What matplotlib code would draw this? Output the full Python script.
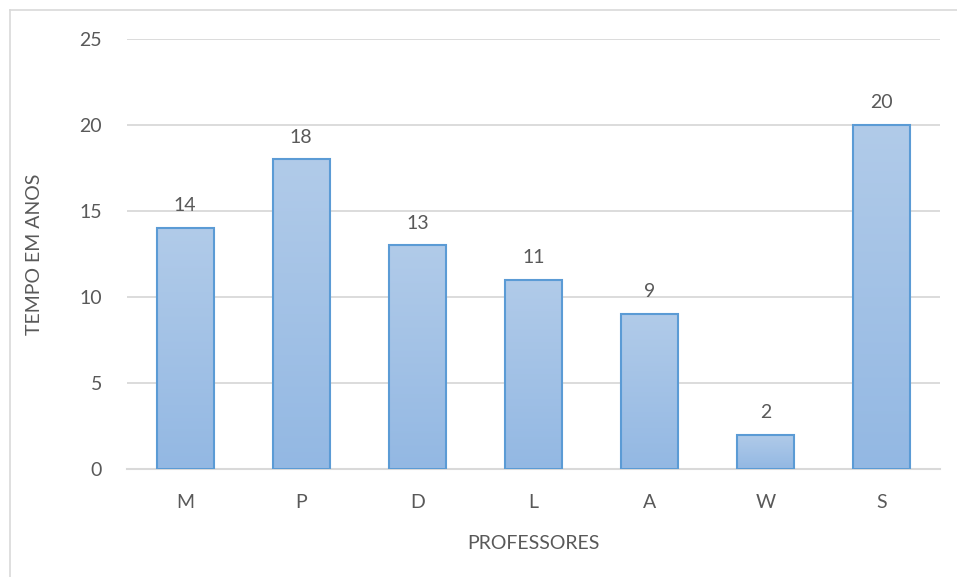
import numpy as np
import matplotlib.pyplot as plt
from matplotlib.lines import Line2D
from matplotlib.colors import LinearSegmentedColormap

professores = ['M', 'P', 'D', 'L', 'A', 'W', 'S']
anos = [14, 18, 13, 11, 9, 2, 20]
yticks = [0, 5, 10, 15, 20, 25]

plt.rcParams['font.family'] = ['Lato', 'DejaVu Sans']
texto = '#595959'
grade = '#d9d9d9'

fig = plt.figure(figsize=(9.57, 5.77), dpi=100)
ax = fig.add_axes([0.1327, 0.1872, 0.8495, 0.7452])

x = np.arange(len(professores))
bars = ax.bar(x, anos, width=0.49, color='none', edgecolor='#5b9bd5',
              linewidth=1.5, zorder=3)

# vertical gradient inside each bar
cmap = LinearSegmentedColormap.from_list('azul', ['#93b8e3', '#b1cbe9'])
grad = np.linspace(0, 1, 256).reshape(-1, 1)
for b in bars:
    x0, y0 = b.get_x(), b.get_y()
    w, h = b.get_width(), b.get_height()
    im = ax.imshow(grad, cmap=cmap, origin='lower', aspect='auto',
                   extent=[x0, x0 + w, y0, y0 + h], zorder=2)
    im.set_clip_path(b)

for xi, v in zip(x, anos):
    ax.annotate(str(v), (xi, v), xytext=(0, 10), textcoords='offset points',
                ha='center', va='bottom', fontsize=14, color=texto)

ax.set_xlim(-0.5, len(professores) - 0.5)
ax.set_ylim(0, 25)
ax.set_yticks(yticks)
ax.set_xticks(x)
ax.set_xticklabels(professores)
ax.tick_params(length=0, labelsize=14, labelcolor=texto)
ax.tick_params(axis='y', pad=18)
ax.tick_params(axis='x', pad=18)
ax.grid(axis='y', color=grade, linewidth=1.3, zorder=0)
ax.set_axisbelow(True)
for s in ['top', 'right', 'left']:
    ax.spines[s].set_visible(False)
ax.spines['bottom'].set_color(grade)
ax.spines['bottom'].set_linewidth(1.5)

ax.set_ylabel('TEMPO EM ANOS', fontsize=14, color=texto, labelpad=26)
ax.set_xlabel('PROFESSORES', fontsize=14, color=texto, labelpad=17)

# outer chart border (top and left edges visible)
fig.add_artist(Line2D([9.5 / 957, 1], [1 - 9.5 / 577] * 2, color=grade,
                      linewidth=1.2, transform=fig.transFigure))
fig.add_artist(Line2D([9.5 / 957] * 2, [0, 1 - 9.5 / 577], color=grade,
                      linewidth=1.2, transform=fig.transFigure))

fig.savefig('out.png', dpi=100)
